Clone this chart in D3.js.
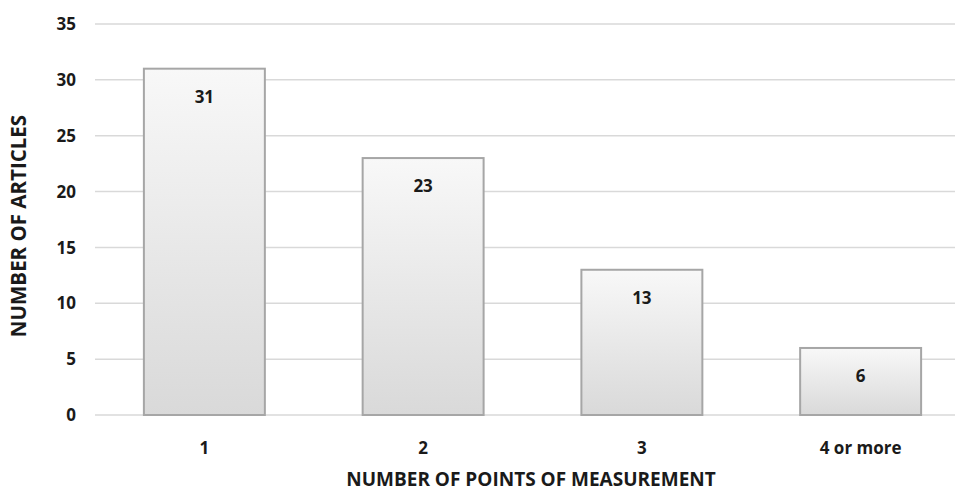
<!DOCTYPE html>
<html>
<head>
<meta charset="utf-8">
<script src="https://cdn.jsdelivr.net/npm/d3@7"></script>
<style>
  body { margin: 0; background: #fff; }
  text { font-family: "Open Sans", "Noto Sans", sans-serif; font-weight: bold; fill: #1a1a1a; }
</style>
</head>
<body>
<svg id="chart"></svg>
<script>
// Data
const categories = ["1", "2", "3", "4 or more"];
const articles = [31, 23, 13, 6];
const yTicks = [0, 5, 10, 15, 20, 25, 30, 35];

const width = 955, height = 492;
const margin = { top: 24, right: -15, bottom: 77, left: 95 };
const innerW = width - margin.left - margin.right;
const innerH = height - margin.top - margin.bottom;

const svg = d3.select("#chart")
    .attr("width", width)
    .attr("height", height);

// Bar gradient
const grad = svg.append("defs").append("linearGradient")
    .attr("id", "barGrad")
    .attr("x1", 0).attr("y1", 0).attr("x2", 0).attr("y2", 1);
grad.append("stop").attr("offset", "0%").attr("stop-color", "#f8f8f8");
grad.append("stop").attr("offset", "100%").attr("stop-color", "#d9d9d9");

const g = svg.append("g")
    .attr("transform", "translate(" + margin.left + "," + margin.top + ")");

const x = d3.scaleBand()
    .domain(categories)
    .range([0, innerW])
    .paddingInner(0.447)
    .paddingOuter(0.2235);

const y = d3.scaleLinear()
    .domain([0, 35])
    .range([innerH, 0]);

// Gridlines
g.append("g")
    .selectAll("line")
    .data(yTicks)
    .enter().append("line")
    .attr("x1", 0)
    .attr("x2", width - margin.left)
    .attr("y1", d => y(d))
    .attr("y2", d => y(d))
    .attr("stroke", "#d9d9d9")
    .attr("stroke-width", 1.5);

// Y tick labels
g.append("g")
    .selectAll("text")
    .data(yTicks)
    .enter().append("text")
    .attr("x", -19)
    .attr("y", d => y(d))
    .attr("dy", "0.36em")
    .attr("text-anchor", "end")
    .style("font-size", "17px")
    .text(d => d);

// Bars
const data = categories.map((c, i) => ({ cat: c, value: articles[i] }));

g.selectAll("rect.bar")
    .data(data)
    .enter().append("rect")
    .attr("class", "bar")
    .attr("x", d => x(d.cat))
    .attr("y", d => y(d.value))
    .attr("width", x.bandwidth())
    .attr("height", d => innerH - y(d.value))
    .attr("fill", "url(#barGrad)")
    .attr("stroke", "#a6a6a6")
    .attr("stroke-width", 2);

// Value labels
g.selectAll("text.val")
    .data(data)
    .enter().append("text")
    .attr("class", "val")
    .attr("x", d => x(d.cat) + x.bandwidth() / 2)
    .attr("y", d => y(d.value) + 34)
    .attr("text-anchor", "middle")
    .style("font-size", "17px")
    .text(d => d.value);

// X tick labels
g.selectAll("text.xt")
    .data(categories)
    .enter().append("text")
    .attr("class", "xt")
    .attr("x", d => x(d) + x.bandwidth() / 2)
    .attr("y", innerH + 39)
    .attr("text-anchor", "middle")
    .style("font-size", "17px")
    .text(d => d);

// Axis titles
svg.append("text")
    .attr("x", 531)
    .attr("y", 486)
    .attr("text-anchor", "middle")
    .style("font-size", "19px")
    .text("NUMBER OF POINTS OF MEASUREMENT");

svg.append("text")
    .attr("transform", "rotate(-90)")
    .attr("x", -226)
    .attr("y", 26)
    .attr("text-anchor", "middle")
    .style("font-size", "20.5px")
    .text("NUMBER OF ARTICLES");
</script>
</body>
</html>
